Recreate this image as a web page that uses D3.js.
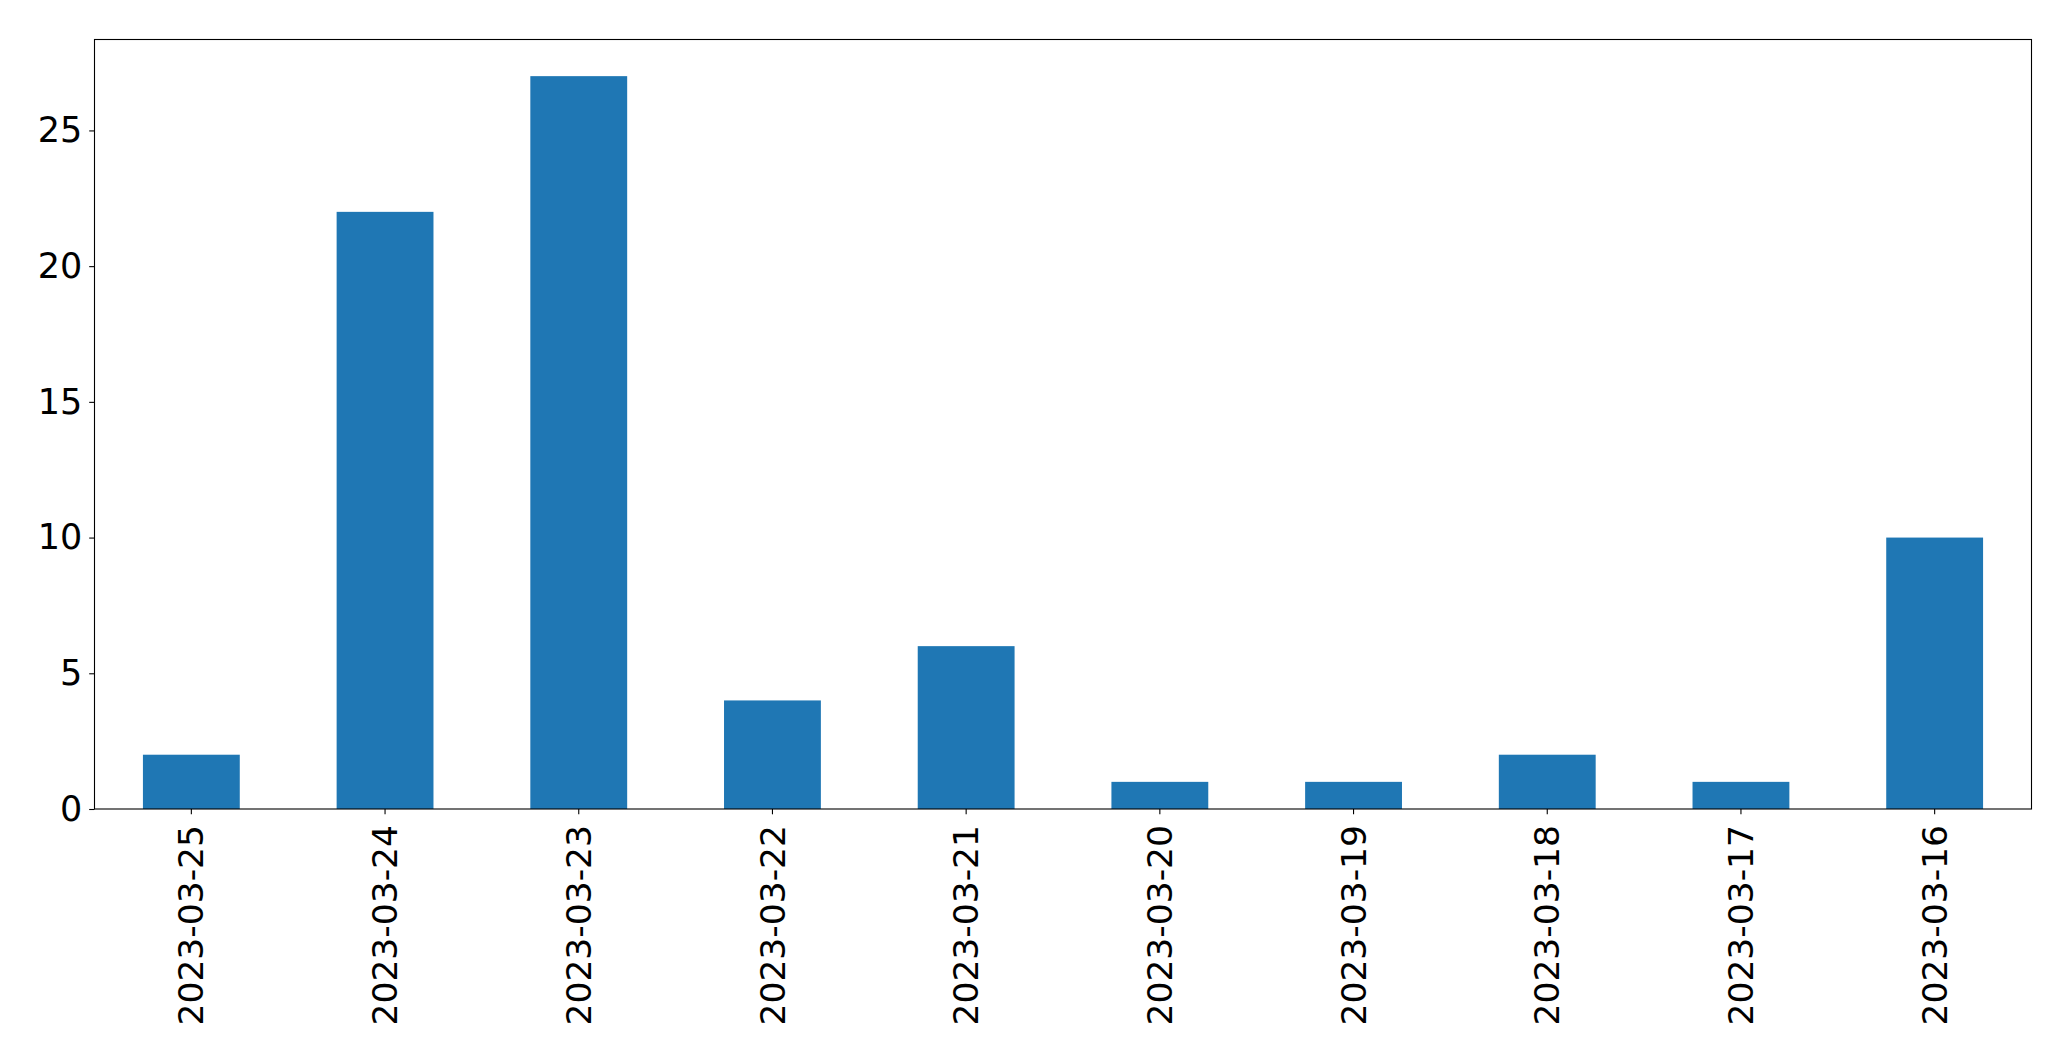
<!DOCTYPE html>
<html>
<head>
<meta charset="utf-8">
<script src="https://cdn.jsdelivr.net/npm/d3@7"></script>
<style>
  html, body { margin: 0; padding: 0; background: #fff; }
  svg { display: block; }
  text { font-family: "DejaVu Sans", sans-serif; fill: #000; }
</style>
</head>
<body>
<svg id="chart" width="2071" height="1061"></svg>
<script>
const categories = ["2023-03-25","2023-03-24","2023-03-23","2023-03-22","2023-03-21","2023-03-20","2023-03-19","2023-03-18","2023-03-17","2023-03-16"];
const values = [2, 22, 27, 4, 6, 1, 1, 2, 1, 10];
const yTicks = [0, 5, 10, 15, 20, 25];

const margin = {left: 94.5, right: 2071 - 2031.5, top: 39.5, bottom: 1061 - 809};
const W = 2071, H = 1061;
const svg = d3.select("#chart");

const x = d3.scaleBand().domain(categories).range([margin.left, W - margin.right]).paddingInner(0.5).paddingOuter(0.25);
const y = d3.scaleLinear().domain([0, d3.max(values) * 1.05]).range([H - margin.bottom, margin.top]);

svg.append("g").selectAll("rect").data(values).join("rect")
  .attr("x", (d, i) => x(categories[i]))
  .attr("width", x.bandwidth())
  .attr("y", d => y(d))
  .attr("height", d => y(0) - y(d))
  .attr("fill", "#1f77b4");

const fs = 35;
const yAxis = svg.append("g").attr("transform", `translate(${margin.left},0)`)
  .call(d3.axisLeft(y).tickValues(yTicks).tickSize(5.3).tickPadding(7).tickFormat(d3.format("d")));
yAxis.select(".domain").remove();
yAxis.selectAll("text").style("font-size", fs + "px").attr("font-family", "DejaVu Sans");
yAxis.selectAll("line").attr("stroke", "#000").attr("stroke-width", 1.1);

const xAxis = svg.append("g").attr("transform", `translate(0,${H - margin.bottom})`)
  .call(d3.axisBottom(x).tickSize(5.3).tickPadding(8));
xAxis.select(".domain").remove();
xAxis.selectAll("line").attr("stroke", "#000").attr("stroke-width", 1.1);
xAxis.selectAll("text")
  .style("font-size", "34.5px")
  .attr("font-family", "DejaVu Sans")
  .attr("transform", "rotate(-90)")
  .attr("x", -16)
  .attr("y", 0)
  .attr("dy", "0.35em")
  .attr("text-anchor", "end");

svg.append("rect")
  .attr("x", margin.left).attr("y", margin.top)
  .attr("width", W - margin.left - margin.right)
  .attr("height", H - margin.top - margin.bottom)
  .attr("fill", "none").attr("stroke", "#000").attr("stroke-width", 1.1);
</script>
</body>
</html>
